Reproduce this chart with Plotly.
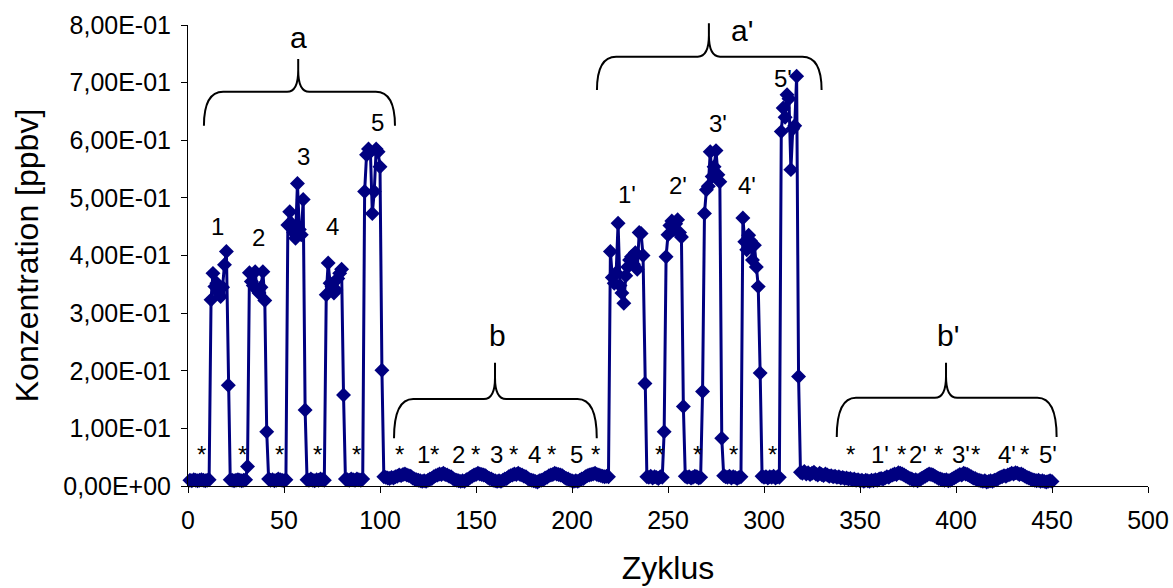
import plotly.graph_objects as go

# ---------------------------------------------------------------
# Konzentration [ppbv] je Zyklus (Zyklus 1 ... 450)
# a : Proben 1-5 mit Blindwerten (*), b : Wiederholung ohne Signal
# a': Proben 1'-5', b': Wiederholung ohne Signal
# ---------------------------------------------------------------

# Abschnitt a
a_blind_0 = [0.010, 0.009, 0.011, 0.010, 0.009, 0.010, 0.011, 0.010, 0.009, 0.010, 0.011]
a_probe_1 = [0.323, 0.369, 0.346, 0.352, 0.335, 0.329, 0.345, 0.384, 0.407, 0.175]
a_blind_1 = [0.011, 0.010, 0.009, 0.010, 0.011, 0.010, 0.009, 0.010, 0.011, 0.034]
a_probe_2 = [0.370, 0.355, 0.348, 0.372, 0.340, 0.335, 0.345, 0.372, 0.322, 0.094]
a_blind_2 = [0.012, 0.010, 0.011, 0.009, 0.010, 0.012, 0.011, 0.010, 0.009, 0.011]
a_probe_3 = [0.453, 0.476, 0.455, 0.440, 0.430, 0.525, 0.445, 0.436, 0.497, 0.132]
a_blind_3 = [0.011, 0.010, 0.012, 0.010, 0.009, 0.011, 0.010, 0.012, 0.011, 0.010]
a_probe_4 = [0.332, 0.387, 0.352, 0.346, 0.335, 0.340, 0.360, 0.369, 0.376, 0.158]
a_blind_4 = [0.012, 0.011, 0.010, 0.012, 0.011, 0.010, 0.012, 0.011, 0.010, 0.012]
a_probe_5 = [0.511, 0.575, 0.585, 0.580, 0.473, 0.511, 0.585, 0.580, 0.554, 0.201]

# Abschnitt b (Zyklus 102 - 219)
b_werte = [
    0.016, 0.015, 0.014, 0.013, 0.015, 0.014, 0.016,
    0.017, 0.019, 0.018, 0.020, 0.021, 0.019, 0.018, 0.017, 0.014,
    0.012, 0.011, 0.010, 0.009, 0.008, 0.009, 0.008, 0.010, 0.012, 0.013, 0.016,
    0.018, 0.019, 0.021, 0.020, 0.022, 0.020, 0.019, 0.017, 0.016, 0.013, 0.011,
    0.010, 0.009, 0.008, 0.009, 0.008, 0.011, 0.012, 0.015, 0.017,
    0.019, 0.020, 0.022, 0.021, 0.020, 0.019, 0.018, 0.015, 0.013, 0.012, 0.010,
    0.009, 0.008, 0.009, 0.008, 0.010, 0.012, 0.013, 0.016, 0.018,
    0.019, 0.021, 0.020, 0.022, 0.020, 0.019, 0.017, 0.016, 0.013, 0.011, 0.010,
    0.009, 0.008, 0.007, 0.009, 0.010, 0.011, 0.014, 0.015, 0.018, 0.019,
    0.020, 0.022, 0.021, 0.020, 0.019, 0.018, 0.015, 0.013, 0.012, 0.010, 0.009,
    0.008, 0.009, 0.008, 0.010, 0.012, 0.013, 0.016, 0.018, 0.019,
    0.020, 0.021, 0.022, 0.020, 0.019, 0.018, 0.017, 0.016, 0.017, 0.016,
]

# Abschnitt a'
c_probe_1 = [0.407, 0.362, 0.352, 0.370, 0.456, 0.348, 0.335, 0.317, 0.365, 0.380,
             0.392, 0.398, 0.385, 0.405, 0.376, 0.440, 0.438, 0.400, 0.178]
c_blind_1 = [0.016, 0.015, 0.017, 0.014, 0.016, 0.015, 0.013, 0.016, 0.015]
c_probe_2 = [0.094, 0.398, 0.436, 0.452, 0.460, 0.445, 0.455, 0.462, 0.440, 0.432, 0.138]
c_blind_2 = [0.017, 0.015, 0.016, 0.014, 0.015, 0.017, 0.016, 0.014, 0.015]
c_probe_3 = [0.164, 0.473, 0.514, 0.520, 0.580, 0.537, 0.554, 0.582, 0.540, 0.528, 0.083]
c_blind_3 = [0.018, 0.016, 0.015, 0.017, 0.014, 0.016, 0.015, 0.013, 0.015, 0.016]
c_probe_4 = [0.465, 0.424, 0.410, 0.435, 0.425, 0.392, 0.418, 0.380, 0.346, 0.196]
c_blind_4 = [0.017, 0.015, 0.016, 0.014, 0.016, 0.015, 0.017, 0.014, 0.016, 0.015]
c_probe_5 = [0.615, 0.656, 0.640, 0.679, 0.672, 0.549, 0.620, 0.625, 0.711, 0.190]

# Abschnitt b' (Zyklus 319 - 450)
d_werte = [
    0.024, 0.022, 0.025, 0.021, 0.023, 0.020, 0.022, 0.024, 0.021, 0.019,
    0.022, 0.020, 0.018, 0.021, 0.019, 0.017, 0.018, 0.016,
    0.017, 0.015, 0.016, 0.014, 0.015, 0.013, 0.014, 0.012, 0.013, 0.011,
    0.012, 0.010, 0.011, 0.009, 0.010, 0.008, 0.010, 0.009, 0.008, 0.010,
    0.009, 0.011, 0.010, 0.012, 0.013, 0.012, 0.014,
    0.016, 0.015, 0.018, 0.019, 0.021, 0.020, 0.023, 0.022, 0.021, 0.019, 0.017, 0.015, 0.013,
    0.012, 0.010, 0.011, 0.009, 0.011, 0.013, 0.015,
    0.017, 0.019, 0.021, 0.020, 0.019, 0.017, 0.015, 0.013,
    0.012, 0.011, 0.010, 0.011, 0.009, 0.010, 0.012, 0.014, 0.016,
    0.018, 0.020, 0.019, 0.022, 0.021, 0.020, 0.018, 0.016, 0.014, 0.013, 0.011,
    0.010, 0.009, 0.008, 0.009, 0.007, 0.008, 0.009, 0.008, 0.010, 0.011, 0.013, 0.015, 0.016,
    0.018, 0.017, 0.019, 0.020, 0.022, 0.021, 0.023, 0.022, 0.020, 0.021, 0.019, 0.017, 0.015, 0.014,
    0.012, 0.011, 0.010, 0.009, 0.010, 0.008, 0.009, 0.008, 0.007, 0.008, 0.009, 0.008,
]

konzentration = (
    a_blind_0 + a_probe_1 + a_blind_1 + a_probe_2 + a_blind_2 + a_probe_3
    + a_blind_3 + a_probe_4 + a_blind_4 + a_probe_5
    + b_werte
    + c_probe_1 + c_blind_1 + c_probe_2 + c_blind_2 + c_probe_3
    + c_blind_3 + c_probe_4 + c_blind_4 + c_probe_5
    + d_werte
)
zyklus = list(range(1, len(konzentration) + 1))

# Achsenbeschriftung
x_ticks = [0, 50, 100, 150, 200, 250, 300, 350, 400, 450, 500]
y_ticks = [0.0, 0.1, 0.2, 0.3, 0.4, 0.5, 0.6, 0.7, 0.8]
y_ticktext = ["0,00E+00", "1,00E-01", "2,00E-01", "3,00E-01", "4,00E-01",
              "5,00E-01", "6,00E-01", "7,00E-01", "8,00E-01"]

# Beschriftungen: (Text, Zyklus, Konzentration)
proben_labels = [
    ("1", 15.2, 0.450), ("2", 36.5, 0.431), ("3", 59.9, 0.571),
    ("4", 75.5, 0.451), ("5", 98.8, 0.630),
    ("1'", 228.5, 0.505), ("2'", 255.4, 0.522), ("3'", 276.2, 0.629),
    ("4'", 291.0, 0.522), ("5'", 309.7, 0.707),
]
zeilen_labels = [
    ("*", 6.8), ("*", 28.5), ("*", 47.9), ("*", 67.5), ("*", 87.5),
    ("*", 110.4), ("1", 122.6), ("*", 128.6), ("2", 140.8), ("*", 149.5),
    ("3", 160.8), ("*", 169.4), ("4", 180.7), ("*", 189.4), ("5", 202.4), ("*", 212.0),
    ("*", 245.8), ("*", 265.3), ("*", 284.0), ("*", 304.3),
    ("*", 344.8), ("1'", 360.4), ("*", 371.7), ("2'", 380.4), ("*", 390.8),
    ("3'", 402.5), ("*", 410.4), ("4'", 426.4), ("*", 435.9), ("5'", 448.1),
]
zeilen_hoehe = 0.054

# Klammern: (Name, links, rechts, Spitze, Ende unten, Querlinie, Spitze oben, Name x, Name y)
klammern = [
    ("a", 8.3, 107.8, 57.4, 0.625, 0.684, 0.741, 57.3, 0.779),
    ("b", 107.3, 212.9, 159.9, 0.083, 0.151, 0.214, 161.0, 0.262),
    ("a'", 213.0, 330.0, 271.3, 0.687, 0.745, 0.803, 288.4, 0.790),
    ("b'", 337.9, 452.4, 394.8, 0.085, 0.153, 0.214, 395.8, 0.262),
]

X_MAX = 500.0
Y_MAX = 0.8
FONT = "Liberation Sans, Arial, sans-serif"
NAVY = "#000080"

fig = go.Figure()
fig.add_trace(go.Scatter(
    x=zyklus, y=konzentration, mode="lines+markers",
    line=dict(color=NAVY, width=3),
    marker=dict(symbol="diamond", size=11.5, color=NAVY, line=dict(width=0)),
    cliponaxis=False, showlegend=False,
))


def px(x):
    return x / X_MAX


def py(y):
    return y / Y_MAX


def klammer_pfad(x0, x1, xt, yb, yh, ytop):
    rx, tdx, tdy = 10.0, 5.8, 0.037
    left = (f"M {px(x0)},{py(yb)} Q {px(x0)},{py(yh)} {px(x0 + rx)},{py(yh)} "
            f"L {px(xt - tdx)},{py(yh)} Q {px(xt)},{py(yh)} {px(xt)},{py(yh + tdy)} "
            f"L {px(xt)},{py(ytop)} ")
    right = (f"M {px(x1)},{py(yb)} Q {px(x1)},{py(yh)} {px(x1 - rx)},{py(yh)} "
             f"L {px(xt + tdx)},{py(yh)} Q {px(xt)},{py(yh)} {px(xt)},{py(yh + tdy)}")
    return left + right


for name, x0, x1, xt, yb, yh, ytop, nx, ny in klammern:
    fig.add_shape(type="path", xref="paper", yref="paper",
                  path=klammer_pfad(x0, x1, xt, yb, yh, ytop),
                  line=dict(color="black", width=2))
    fig.add_annotation(x=nx, y=ny, text=name, showarrow=False,
                       font=dict(family=FONT, size=30, color="black"))

for text, x, y in proben_labels:
    fig.add_annotation(x=x, y=y, text=text, showarrow=False,
                       font=dict(family=FONT, size=24, color="black"))

for text, x in zeilen_labels:
    fig.add_annotation(x=x, y=zeilen_hoehe, text=text, showarrow=False,
                       font=dict(family=FONT, size=24, color="black"))

fig.update_layout(
    width=1173, height=588,
    margin=dict(l=188, r=25, t=25, b=102, autoexpand=False),
    plot_bgcolor="white", paper_bgcolor="white",
    font=dict(family=FONT, color="black"),
    xaxis=dict(
        range=[0, X_MAX], tickvals=x_ticks, ticks="outside", ticklen=6,
        tickcolor="black", showline=True, linecolor="black", linewidth=1,
        showgrid=False, zeroline=False, tickfont=dict(size=25),
        ticklabelstandoff=6, automargin=False,
        title=dict(text="Zyklus", font=dict(size=32), standoff=23),
    ),
    yaxis=dict(
        range=[0, Y_MAX], tickvals=y_ticks, ticktext=y_ticktext,
        ticks="outside", ticklen=6, tickcolor="black", showline=True,
        linecolor="black", linewidth=1, showgrid=False, zeroline=False,
        tickfont=dict(size=25), ticklabelstandoff=5, automargin=False,
        title=dict(text="Konzentration [ppbv]", font=dict(size=32), standoff=15),
    ),
)

fig.write_html("out.html")
